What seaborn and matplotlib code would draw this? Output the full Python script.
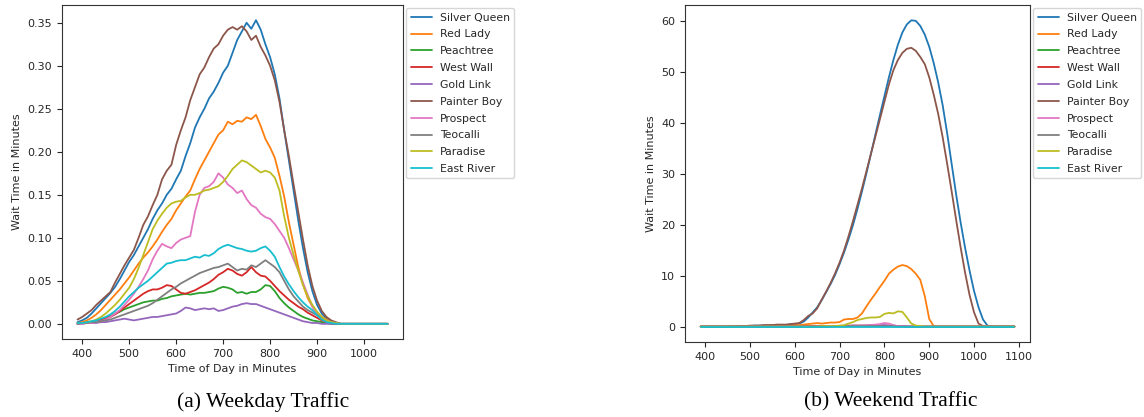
import pandas as pd
import matplotlib.pyplot as plt
import seaborn as sns

# trail names, in legend order
trails = ['Silver Queen', 'Red Lady', 'Peachtree', 'West Wall', 'Gold Link',
          'Painter Boy', 'Prospect', 'Teocalli', 'Paradise', 'East River']

# %% weekday wait times (minutes), sampled every 10 minutes from 390 to 1050
weekday_minutes = list(range(390, 1060, 10))

wd_silver_queen = [
    0.002, 0.004, 0.007, 0.012, 0.018, 0.024, 0.030, 0.036, 0.043, 0.052,
    0.062, 0.072, 0.080, 0.090, 0.100, 0.110, 0.122, 0.132, 0.140, 0.150,
    0.157, 0.168, 0.178, 0.195, 0.210, 0.228, 0.240, 0.250, 0.262, 0.270,
    0.280, 0.292, 0.300, 0.315, 0.330, 0.340, 0.350, 0.343, 0.353, 0.342,
    0.325, 0.310, 0.290, 0.262, 0.225, 0.190, 0.155, 0.120, 0.088, 0.060,
    0.038, 0.022, 0.012, 0.006, 0.003, 0.001, 0.000,
    0, 0, 0, 0, 0, 0, 0, 0, 0, 0]
wd_red_lady = [
    0.001, 0.002, 0.004, 0.007, 0.011, 0.016, 0.022, 0.028, 0.034, 0.040,
    0.047, 0.054, 0.062, 0.070, 0.077, 0.083, 0.090, 0.098, 0.107, 0.115,
    0.122, 0.132, 0.140, 0.148, 0.155, 0.168, 0.180, 0.190, 0.200, 0.210,
    0.220, 0.225, 0.235, 0.232, 0.236, 0.235, 0.240, 0.238, 0.243, 0.230,
    0.215, 0.205, 0.193, 0.172, 0.148, 0.118, 0.092, 0.066, 0.046, 0.030,
    0.020, 0.013, 0.008, 0.005, 0.003, 0.001, 0.000,
    0, 0, 0, 0, 0, 0, 0, 0, 0, 0]
wd_peachtree = [
    0.000, 0.001, 0.001, 0.002, 0.003, 0.005, 0.007, 0.009, 0.012, 0.014,
    0.017, 0.019, 0.021, 0.023, 0.025, 0.026, 0.027, 0.027, 0.029, 0.030,
    0.032, 0.033, 0.034, 0.035, 0.034, 0.035, 0.036, 0.036, 0.037, 0.038,
    0.041, 0.043, 0.042, 0.040, 0.036, 0.037, 0.035, 0.037, 0.037, 0.040,
    0.045, 0.044, 0.038, 0.030, 0.024, 0.019, 0.015, 0.011, 0.008, 0.006,
    0.004, 0.003, 0.002, 0.001, 0.000, 0.000, 0.000,
    0, 0, 0, 0, 0, 0, 0, 0, 0, 0]
wd_west_wall = [
    0.000, 0.001, 0.001, 0.002, 0.003, 0.004, 0.006, 0.008, 0.011, 0.015,
    0.019, 0.023, 0.027, 0.031, 0.035, 0.038, 0.040, 0.040, 0.042, 0.045,
    0.044, 0.040, 0.036, 0.035, 0.037, 0.039, 0.042, 0.045, 0.048, 0.052,
    0.057, 0.060, 0.064, 0.062, 0.058, 0.056, 0.060, 0.066, 0.060, 0.056,
    0.055, 0.050, 0.044, 0.038, 0.033, 0.028, 0.024, 0.020, 0.017, 0.013,
    0.010, 0.007, 0.004, 0.002, 0.001, 0.000, 0.000,
    0, 0, 0, 0, 0, 0, 0, 0, 0, 0]
wd_gold_link = [
    0.000, 0.000, 0.001, 0.001, 0.001, 0.002, 0.002, 0.003, 0.004, 0.005,
    0.006, 0.005, 0.004, 0.005, 0.006, 0.007, 0.008, 0.008, 0.009, 0.010,
    0.011, 0.012, 0.015, 0.019, 0.018, 0.016, 0.017, 0.018, 0.017, 0.018,
    0.015, 0.016, 0.018, 0.020, 0.021, 0.023, 0.024, 0.023, 0.023, 0.021,
    0.019, 0.017, 0.015, 0.013, 0.011, 0.009, 0.007, 0.005, 0.003, 0.002,
    0.001, 0.001, 0.000, 0.000, 0.000, 0.000, 0.000,
    0, 0, 0, 0, 0, 0, 0, 0, 0, 0]
wd_painter_boy = [
    0.005, 0.008, 0.012, 0.016, 0.022, 0.027, 0.032, 0.037, 0.048, 0.058,
    0.068, 0.077, 0.086, 0.100, 0.115, 0.125, 0.138, 0.150, 0.168, 0.178,
    0.185, 0.208, 0.225, 0.240, 0.260, 0.275, 0.290, 0.298, 0.310, 0.320,
    0.325, 0.335, 0.342, 0.345, 0.342, 0.346, 0.340, 0.330, 0.335, 0.322,
    0.312, 0.300, 0.283, 0.258, 0.225, 0.195, 0.162, 0.130, 0.098, 0.068,
    0.044, 0.027, 0.015, 0.008, 0.004, 0.002, 0.000,
    0, 0, 0, 0, 0, 0, 0, 0, 0, 0]
wd_prospect = [
    0.000, 0.000, 0.001, 0.001, 0.002, 0.003, 0.005, 0.008, 0.012, 0.016,
    0.022, 0.028, 0.035, 0.043, 0.052, 0.062, 0.075, 0.085, 0.093, 0.090,
    0.088, 0.094, 0.098, 0.100, 0.102, 0.130, 0.150, 0.158, 0.160, 0.165,
    0.175, 0.170, 0.162, 0.158, 0.152, 0.155, 0.145, 0.138, 0.135, 0.128,
    0.124, 0.122, 0.116, 0.108, 0.100, 0.088, 0.075, 0.062, 0.048, 0.034,
    0.020, 0.012, 0.007, 0.004, 0.002, 0.001, 0.000,
    0, 0, 0, 0, 0, 0, 0, 0, 0, 0]
wd_teocalli = [
    0.000, 0.001, 0.001, 0.002, 0.002, 0.003, 0.004, 0.005, 0.007, 0.009,
    0.011, 0.013, 0.015, 0.017, 0.019, 0.021, 0.024, 0.028, 0.032, 0.036,
    0.040, 0.043, 0.047, 0.050, 0.053, 0.056, 0.059, 0.061, 0.063, 0.065,
    0.066, 0.068, 0.070, 0.066, 0.062, 0.064, 0.063, 0.068, 0.066, 0.070,
    0.074, 0.070, 0.066, 0.060, 0.050, 0.040, 0.032, 0.026, 0.020, 0.016,
    0.013, 0.010, 0.007, 0.004, 0.002, 0.001, 0.000,
    0, 0, 0, 0, 0, 0, 0, 0, 0, 0]
wd_paradise = [
    0.001, 0.001, 0.002, 0.003, 0.005, 0.008, 0.012, 0.017, 0.022, 0.028,
    0.035, 0.042, 0.052, 0.065, 0.080, 0.095, 0.110, 0.120, 0.128, 0.135,
    0.140, 0.142, 0.143, 0.147, 0.150, 0.150, 0.152, 0.155, 0.156, 0.158,
    0.160, 0.165, 0.172, 0.180, 0.185, 0.190, 0.188, 0.184, 0.180, 0.176,
    0.178, 0.176, 0.170, 0.155, 0.125, 0.100, 0.080, 0.062, 0.045, 0.032,
    0.022, 0.014, 0.008, 0.004, 0.002, 0.001, 0.000,
    0, 0, 0, 0, 0, 0, 0, 0, 0, 0]
wd_east_river = [
    0.001, 0.001, 0.002, 0.003, 0.004, 0.006, 0.008, 0.011, 0.015, 0.020,
    0.026, 0.032, 0.037, 0.042, 0.046, 0.050, 0.055, 0.060, 0.065, 0.070,
    0.071, 0.073, 0.074, 0.074, 0.076, 0.078, 0.077, 0.080, 0.079, 0.082,
    0.087, 0.090, 0.092, 0.090, 0.088, 0.087, 0.085, 0.084, 0.085, 0.088,
    0.090, 0.085, 0.078, 0.066, 0.055, 0.046, 0.038, 0.031, 0.025, 0.020,
    0.016, 0.010, 0.005, 0.002, 0.001, 0.000, 0.000,
    0, 0, 0, 0, 0, 0, 0, 0, 0, 0]

# %% weekend wait times (minutes), sampled every 10 minutes from 390 to 1090
weekend_minutes = list(range(390, 1100, 10))

we_silver_queen = [
    0.0, 0.0, 0.0, 0.0, 0.0, 0.0, 0.0, 0.1, 0.1, 0.1,
    0.1, 0.1, 0.2, 0.2, 0.2, 0.2, 0.3, 0.3, 0.3, 0.3,
    0.4, 0.5, 0.6, 1.0, 1.8, 2.8, 3.8, 5.2, 6.8, 8.4,
    10.2, 12.3, 14.6, 17.2, 20.0, 23.2, 26.6, 30.2, 34.0, 37.8,
    41.6, 45.3, 49.0, 52.4, 55.4, 57.8, 59.4, 60.2, 60.1, 59.1,
    57.4, 55.0, 51.8, 48.0, 43.5, 38.0, 32.0, 26.0, 20.5, 15.5,
    11.0, 7.0, 3.8, 1.4, 0.2, 0.0, 0.0, 0.0, 0.0, 0.0,
    0.0]
we_red_lady = [
    0.0, 0.0, 0.0, 0.0, 0.0, 0.0, 0.0, 0.0, 0.0, 0.1,
    0.1, 0.1, 0.1, 0.1, 0.1, 0.2, 0.2, 0.2, 0.2, 0.2,
    0.3, 0.3, 0.3, 0.4, 0.5, 0.6, 0.7, 0.6, 0.7, 0.8,
    0.8, 0.9, 1.4, 1.5, 1.5, 1.8, 2.6, 4.0, 5.3, 6.5,
    7.8, 9.0, 10.4, 11.2, 11.8, 12.1, 11.9, 11.3, 10.4, 9.2,
    6.0, 1.5, 0.1, 0.0, 0.0, 0.0, 0.0, 0.0, 0.0, 0.0,
    0.0, 0.0, 0.0, 0.0, 0.0, 0.0, 0.0, 0.0, 0.0, 0.0,
    0.0]
we_peachtree = [
    0.0, 0.0, 0.0, 0.0, 0.0, 0.0, 0.0, 0.0, 0.0, 0.0,
    0.0, 0.0, 0.0, 0.0, 0.0, 0.0, 0.0, 0.0, 0.0, 0.0,
    0.0, 0.0, 0.0, 0.0, 0.0, 0.1, 0.1, 0.1, 0.1, 0.1,
    0.1, 0.1, 0.1, 0.1, 0.1, 0.1, 0.1, 0.1, 0.1, 0.1,
    0.1, 0.1, 0.1, 0.1, 0.1, 0.1, 0.0, 0.0, 0.0, 0.0,
    0.0, 0.0, 0.0, 0.0, 0.0, 0.0, 0.0, 0.0, 0.0, 0.0,
    0.0, 0.0, 0.0, 0.0, 0.0, 0.0, 0.0, 0.0, 0.0, 0.0,
    0.0]
we_west_wall = [
    0.0, 0.0, 0.0, 0.0, 0.0, 0.0, 0.0, 0.0, 0.0, 0.0,
    0.0, 0.0, 0.0, 0.0, 0.0, 0.0, 0.0, 0.0, 0.0, 0.0,
    0.0, 0.0, 0.0, 0.1, 0.1, 0.1, 0.1, 0.1, 0.1, 0.1,
    0.1, 0.1, 0.1, 0.2, 0.2, 0.2, 0.2, 0.2, 0.2, 0.2,
    0.2, 0.2, 0.2, 0.1, 0.1, 0.1, 0.0, 0.0, 0.0, 0.0,
    0.0, 0.0, 0.0, 0.0, 0.0, 0.0, 0.0, 0.0, 0.0, 0.0,
    0.0, 0.0, 0.0, 0.0, 0.0, 0.0, 0.0, 0.0, 0.0, 0.0,
    0.0]
we_gold_link = [
    0.0, 0.0, 0.0, 0.0, 0.0, 0.0, 0.0, 0.0, 0.0, 0.0,
    0.0, 0.0, 0.0, 0.0, 0.0, 0.0, 0.0, 0.0, 0.0, 0.0,
    0.0, 0.0, 0.0, 0.0, 0.0, 0.0, 0.0, 0.0, 0.0, 0.1,
    0.1, 0.1, 0.1, 0.1, 0.2, 0.2, 0.2, 0.2, 0.3, 0.3,
    0.3, 0.3, 0.2, 0.2, 0.1, 0.1, 0.0, 0.0, 0.0, 0.0,
    0.0, 0.0, 0.0, 0.0, 0.0, 0.0, 0.0, 0.0, 0.0, 0.0,
    0.0, 0.0, 0.0, 0.0, 0.0, 0.0, 0.0, 0.0, 0.0, 0.0,
    0.0]
we_painter_boy = [
    0.0, 0.0, 0.0, 0.0, 0.0, 0.0, 0.0, 0.1, 0.1, 0.1,
    0.1, 0.2, 0.2, 0.2, 0.3, 0.3, 0.3, 0.4, 0.4, 0.4,
    0.5, 0.6, 0.7, 1.3, 2.1, 2.6, 3.6, 5.3, 6.9, 8.6,
    10.5, 12.6, 15.0, 17.8, 20.8, 24.0, 27.2, 30.6, 34.0, 37.4,
    40.8, 44.2, 47.6, 50.4, 52.4, 53.8, 54.6, 54.8, 54.2, 53.0,
    51.6, 49.0, 45.6, 41.8, 37.2, 32.0, 26.6, 21.0, 15.6, 10.6,
    6.2, 2.8, 0.6, 0.1, 0.0, 0.0, 0.0, 0.0, 0.0, 0.0,
    0.0]
we_prospect = [
    0.0, 0.0, 0.0, 0.0, 0.0, 0.0, 0.0, 0.0, 0.0, 0.0,
    0.0, 0.0, 0.0, 0.0, 0.0, 0.0, 0.0, 0.0, 0.0, 0.0,
    0.0, 0.0, 0.0, 0.0, 0.0, 0.0, 0.0, 0.0, 0.1, 0.1,
    0.1, 0.1, 0.1, 0.1, 0.1, 0.1, 0.2, 0.2, 0.3, 0.4,
    0.5, 0.7, 0.6, 0.3, 0.1, 0.1, 0.0, 0.0, 0.0, 0.0,
    0.0, 0.0, 0.0, 0.0, 0.0, 0.0, 0.0, 0.0, 0.0, 0.0,
    0.0, 0.0, 0.0, 0.0, 0.0, 0.0, 0.0, 0.0, 0.0, 0.0,
    0.0]
we_teocalli = [
    0.0, 0.0, 0.0, 0.0, 0.0, 0.0, 0.0, 0.0, 0.0, 0.0,
    0.0, 0.0, 0.0, 0.0, 0.0, 0.0, 0.0, 0.0, 0.0, 0.0,
    0.0, 0.0, 0.0, 0.0, 0.0, 0.0, 0.0, 0.0, 0.0, 0.0,
    0.1, 0.1, 0.1, 0.1, 0.1, 0.1, 0.1, 0.1, 0.1, 0.1,
    0.1, 0.1, 0.1, 0.1, 0.0, 0.0, 0.0, 0.0, 0.0, 0.0,
    0.0, 0.0, 0.0, 0.0, 0.0, 0.0, 0.0, 0.0, 0.0, 0.0,
    0.0, 0.0, 0.0, 0.0, 0.0, 0.0, 0.0, 0.0, 0.0, 0.0,
    0.0]
we_paradise = [
    0.0, 0.0, 0.0, 0.0, 0.0, 0.0, 0.0, 0.0, 0.0, 0.0,
    0.0, 0.0, 0.0, 0.0, 0.0, 0.0, 0.0, 0.0, 0.0, 0.0,
    0.0, 0.0, 0.0, 0.0, 0.0, 0.0, 0.0, 0.1, 0.1, 0.1,
    0.1, 0.2, 0.3, 0.6, 0.9, 1.3, 1.5, 1.7, 1.8, 1.8,
    1.9, 2.5, 2.7, 2.6, 3.0, 2.9, 1.8, 0.6, 0.2, 0.1,
    0.0, 0.0, 0.0, 0.0, 0.0, 0.0, 0.0, 0.0, 0.0, 0.0,
    0.0, 0.0, 0.0, 0.0, 0.0, 0.0, 0.0, 0.0, 0.0, 0.0,
    0.0]
we_east_river = [
    0.0, 0.0, 0.0, 0.0, 0.0, 0.0, 0.0, 0.0, 0.0, 0.0,
    0.0, 0.0, 0.0, 0.0, 0.0, 0.0, 0.0, 0.0, 0.0, 0.0,
    0.0, 0.0, 0.0, 0.0, 0.0, 0.0, 0.0, 0.0, 0.0, 0.0,
    0.0, 0.0, 0.0, 0.0, 0.0, 0.0, 0.0, 0.0, 0.0, 0.0,
    0.0, 0.0, 0.0, 0.0, 0.0, 0.0, 0.0, 0.0, 0.0, 0.0,
    0.0, 0.0, 0.0, 0.0, 0.0, 0.0, 0.0, 0.0, 0.0, 0.0,
    0.0, 0.0, 0.0, 0.0, 0.0, 0.0, 0.0, 0.0, 0.0, 0.0,
    0.0]

weekday = [wd_silver_queen, wd_red_lady, wd_peachtree, wd_west_wall, wd_gold_link,
           wd_painter_boy, wd_prospect, wd_teocalli, wd_paradise, wd_east_river]
weekend = [we_silver_queen, we_red_lady, we_peachtree, we_west_wall, we_gold_link,
           we_painter_boy, we_prospect, we_teocalli, we_paradise, we_east_river]


def to_long(minutes, series):
    df = pd.DataFrame(dict(zip(trails, series)), index=minutes)
    df.index.name = 'Minute'
    return df.reset_index().melt(id_vars='Minute', var_name='Trail', value_name='Wait')


df_wd = to_long(weekday_minutes, weekday)
df_we = to_long(weekend_minutes, weekend)

# %% plotting
sns.set_theme(style='ticks', palette='tab10', rc={
    'font.size': 8, 'axes.labelsize': 8, 'xtick.labelsize': 8, 'ytick.labelsize': 8,
    'legend.fontsize': 7.8, 'axes.linewidth': 0.8, 'xtick.major.size': 3.5,
    'ytick.major.size': 3.5, 'xtick.major.width': 0.8, 'ytick.major.width': 0.8,
    'axes.edgecolor': '.2', 'text.color': '.15', 'xtick.color': '.15', 'ytick.color': '.15',
})
plt.rcParams['font.family'] = ['DejaVu Sans']

fig = plt.figure(figsize=(11.44, 4.17), dpi=100)
ax1 = fig.add_axes([0.0542, 0.187, 0.2981, 0.801])
ax2 = fig.add_axes([0.5988, 0.180, 0.3016, 0.808])

for ax, df in [(ax1, df_wd), (ax2, df_we)]:
    sns.lineplot(data=df, x='Minute', y='Wait', hue='Trail', hue_order=trails,
                 palette='tab10', linewidth=1.3, ax=ax)
    handles, labels = ax.get_legend_handles_labels()
    ax.legend(handles, labels, loc='upper left', bbox_to_anchor=(1.0, 1.0),
              frameon=True, framealpha=0.8, edgecolor='0.8', fancybox=True,
              labelspacing=0.63, borderaxespad=0.3, handletextpad=0.7)
    ax.set_xlabel('Time of Day in Minutes')
    ax.set_ylabel('Wait Time in Minutes')

fig.text(263 / 1144, 1 - 402 / 417, '(a) Weekday Traffic', ha='center', va='center',
         family='Liberation Serif', fontsize=15.5, color='black')
fig.text(891 / 1144, 1 - 402 / 417, '(b) Weekend Traffic', ha='center', va='center',
         family='Liberation Serif', fontsize=15.5, color='black')

fig.savefig('out.png', dpi=100)
